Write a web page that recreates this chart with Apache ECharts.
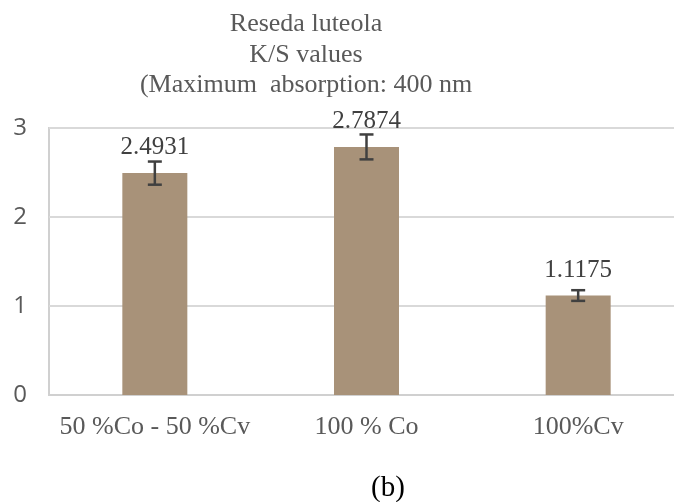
<!DOCTYPE html>
<html>
<head>
<meta charset="utf-8">
<script src="https://cdn.jsdelivr.net/npm/echarts@6/dist/echarts.min.js"></script>
<style>
  html, body { margin: 0; padding: 0; background: #ffffff; }
  #chart { width: 674px; height: 502px; }
</style>
</head>
<body>
<div id="chart"></div>
<script>
// K/S values of Reseda luteola dyeings at 400 nm
const categories = ['50 %Co - 50 %Cv', '100 % Co', '100%Cv'];
const ksValues = [2.4931, 2.7874, 1.1175];
const ksErrors = [0.13, 0.14, 0.06];
const yTicks = [0, 1, 2, 3];

const titleLines = ['Reseda luteola', 'K/S values', '(Maximum  absorption: 400 nm'];
const panelLabel = '(b)';

const serif = '"Liberation Serif", "Times New Roman", serif';
const sans = '"Open Sans", "Liberation Sans", sans-serif';

const chart = echarts.init(document.getElementById('chart'), null, { renderer: 'canvas' });

const errorData = ksValues.map((v, i) => [i, v - ksErrors[i], v + ksErrors[i]]);

chart.setOption({
  backgroundColor: '#ffffff',
  animation: false,
  title: {
    text: titleLines.join('\n'),
    left: 301,
    top: 4,
    textAlign: 'center',
    textStyle: {
      fontFamily: serif,
      fontSize: 26,
      fontWeight: 'normal',
      color: '#595959',
      lineHeight: 30.5
    }
  },
  graphic: [{
    type: 'text',
    style: {
      x: 388,
      y: 488,
      text: panelLabel,
      font: '29px ' + serif,
      fill: '#000000',
      textAlign: 'center',
      textVerticalAlign: 'middle'
    }
  }],
  grid: {
    left: 49,
    right: -10,
    top: 128,
    bottom: 107,
    outerBoundsMode: 'none',
    containLabel: false,
    show: true,
    borderColor: '#d0d0d0',
    borderWidth: 2
  },
  xAxis: {
    type: 'category',
    data: categories,
    axisLine: { show: true, lineStyle: { color: '#d0d0d0', width: 2 } },
    axisTick: { show: false },
    axisLabel: {
      interval: 0,
      fontFamily: serif,
      fontSize: 26,
      color: '#595959',
      margin: 19
    }
  },
  yAxis: {
    type: 'value',
    min: yTicks[0],
    max: yTicks[yTicks.length - 1],
    interval: 1,
    axisLine: { show: false },
    axisTick: { show: false },
    splitLine: { lineStyle: { color: '#d9d9d9', width: 2 } },
    axisLabel: {
      fontFamily: sans,
      fontSize: 24,
      color: '#595959',
      margin: 22
    }
  },
  series: [
    {
      type: 'bar',
      data: ksValues,
      barWidth: 65,
      itemStyle: { color: '#a89279' },
      label: {
        show: true,
        position: 'top',
        distance: 13,
        fontFamily: serif,
        fontSize: 25,
        color: '#404040',
        formatter: p => p.value.toFixed(4)
      },
      z: 2
    },
    {
      type: 'custom',
      data: errorData,
      z: 3,
      renderItem: function (params, api) {
        const x = api.value(0);
        const lo = api.coord([x, api.value(1)]);
        const hi = api.coord([x, api.value(2)]);
        const half = 7;
        const style = { stroke: '#404040', lineWidth: 2.5 };
        return {
          type: 'group',
          children: [
            { type: 'line', shape: { x1: lo[0], y1: lo[1], x2: hi[0], y2: hi[1] }, style },
            { type: 'line', shape: { x1: hi[0] - half, y1: hi[1], x2: hi[0] + half, y2: hi[1] }, style },
            { type: 'line', shape: { x1: lo[0] - half, y1: lo[1], x2: lo[0] + half, y2: lo[1] }, style }
          ]
        };
      }
    }
  ]
});
</script>
</body>
</html>
